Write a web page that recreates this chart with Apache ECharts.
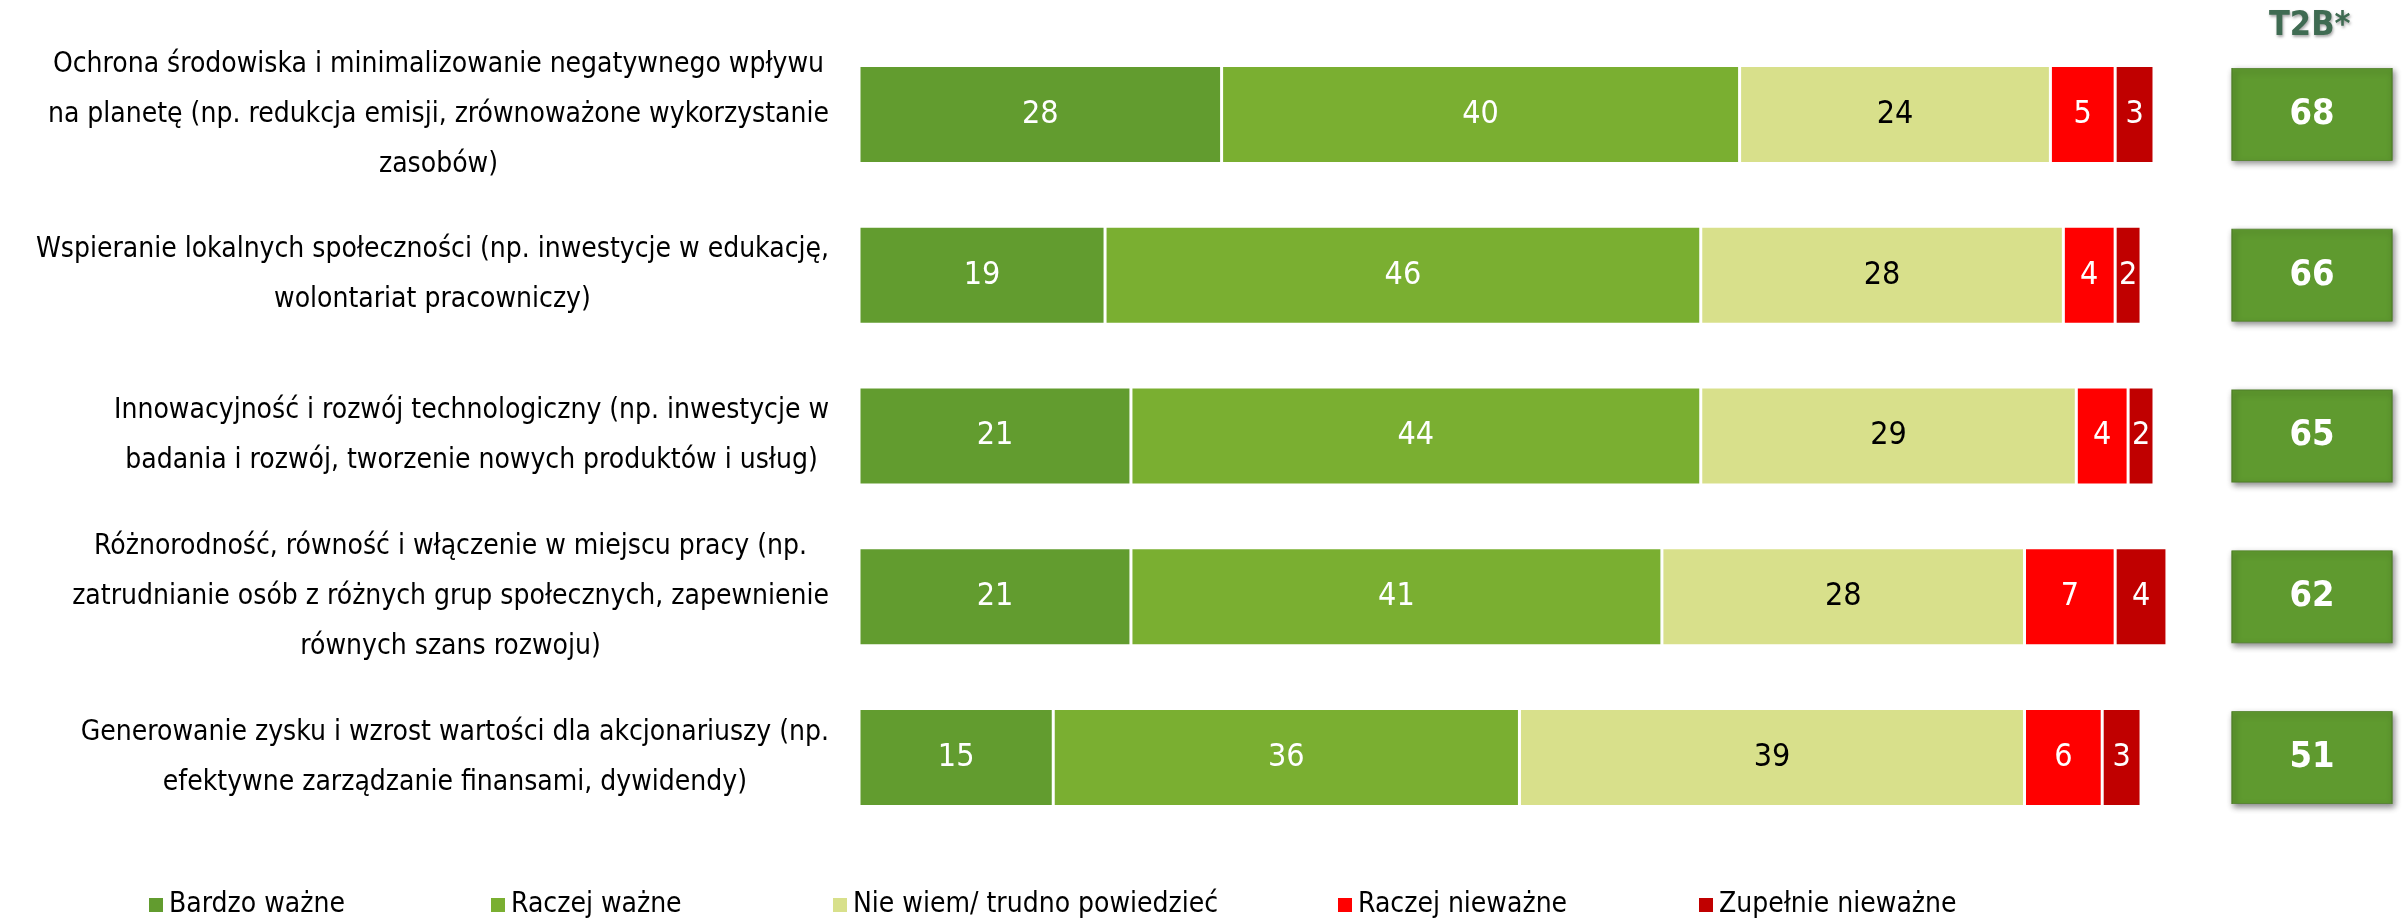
<!DOCTYPE html>
<html>
<head>
<meta charset="utf-8">
<script src="https://cdn.jsdelivr.net/npm/echarts@6/dist/echarts.min.js"></script>
<style>
  html, body { margin: 0; padding: 0; background: #ffffff; }
  #chart { width: 2405px; height: 919px; }
</style>
</head>
<body>
<div id="chart"></div>
<script>
// Category labels (line breaks as they are set in the chart)
const categories = [
  'Ochrona środowiska i minimalizowanie negatywnego wpływu\nna planetę (np. redukcja emisji, zrównoważone wykorzystanie\nzasobów)',
  'Wspieranie lokalnych społeczności (np. inwestycje w edukację,\nwolontariat pracowniczy)',
  'Innowacyjność i rozwój technologiczny (np. inwestycje w\nbadania i rozwój, tworzenie nowych produktów i usług)',
  'Różnorodność, równość i włączenie w miejscu pracy (np.\nzatrudnianie osób z różnych grup społecznych, zapewnienie\nrównych szans rozwoju)',
  'Generowanie zysku i wzrost wartości dla akcjonariuszy (np.\nefektywne zarządzanie finansami, dywidendy)'
];

// Shares of answers, in %
const bardzoWazne      = [28, 19, 21, 21, 15];
const raczejWazne      = [40, 46, 44, 41, 36];
const nieWiem          = [24, 28, 29, 28, 39];
const raczejNiewazne   = [5, 4, 4, 7, 6];
const zupelnieNiewazne = [3, 2, 2, 4, 3];

// Top-2-box totals
const t2bTitle = 'T2B*';
const t2b = [68, 66, 65, 62, 51];

const seriesNames = ['Bardzo ważne', 'Raczej ważne', 'Nie wiem/ trudno powiedzieć', 'Raczej nieważne', 'Zupełnie nieważne'];
const seriesData = [bardzoWazne, raczejWazne, nieWiem, raczejNiewazne, zupelnieNiewazne];

const seriesColors = ['#629c2f', '#7aaf31', '#d8e08b', '#ff0000', '#c00000'];
const labelColors  = ['#ffffff', '#ffffff', '#000000', '#ffffff', '#ffffff'];
const legendLeft   = [147, 489, 831, 1336, 1697];

const FONT = "'Liberation Sans Narrow', 'DejaVu Sans Condensed', 'Noto Sans', sans-serif";

const chart = echarts.init(document.getElementById('chart'), null, { renderer: 'canvas' });

const barSeries = seriesNames.map((name, i) => ({
  name: name,
  type: 'bar',
  stack: 'total',
  xAxisIndex: 0,
  yAxisIndex: 0,
  barWidth: 98,
  clip: false,
  data: seriesData[i],
  itemStyle: { color: seriesColors[i], borderColor: '#ffffff', borderWidth: 1.5 },
  label: {
    show: true,
    position: 'inside',
    fontFamily: FONT,
    fontSize: 32,
    color: labelColors[i]
  },
  emphasis: { disabled: true }
}));

const t2bSeries = {
  name: t2bTitle,
  type: 'scatter',
  xAxisIndex: 1,
  yAxisIndex: 1,
  symbol: 'rect',
  symbolSize: [160, 92],
  data: t2b.map((v, i) => [0.5, i, v]),
  encode: { x: 0, y: 1 },
  itemStyle: {
    color: '#5f9a2f',
    borderColor: '#4f7f28',
    borderWidth: 1,
    shadowBlur: 6,
    shadowColor: 'rgba(0,0,0,0.45)',
    shadowOffsetX: 2,
    shadowOffsetY: 3,
    opacity: 1
  },
  label: {
    show: true,
    position: 'inside',
    formatter: p => String(p.value[2]),
    fontFamily: FONT,
    fontWeight: 'bold',
    fontSize: 36,
    color: '#ffffff'
  },
  emphasis: { disabled: true }
};

const legends = seriesNames.map((name, i) => ({
  data: [name],
  left: legendLeft[i],
  top: 887,
  padding: 0,
  icon: 'rect',
  itemWidth: 16,
  itemHeight: 16,
  selectedMode: false,
  textStyle: { fontFamily: FONT, fontSize: 28, color: '#000000', lineHeight: 36 }
}));

chart.setOption({
  animation: false,
  backgroundColor: '#ffffff',
  title: {
    text: t2bTitle,
    left: 2264,
    top: 4,
    textStyle: {
      fontFamily: FONT,
      fontSize: 34,
      fontWeight: 'bold',
      color: '#3f6b52',
      textShadowBlur: 3,
      textShadowColor: 'rgba(0,0,0,0.35)',
      textShadowOffsetX: 1,
      textShadowOffsetY: 2
    }
  },
  legend: legends,
  grid: [
    { left: 859, width: 1295, top: 34, height: 804, outerBoundsMode: 'none', containLabel: false },
    { left: 2232, width: 160, top: 34, height: 804, outerBoundsMode: 'none', containLabel: false }
  ],
  xAxis: [
    { type: 'value', gridIndex: 0, min: 0, max: 100, show: false },
    { type: 'value', gridIndex: 1, min: 0, max: 1, show: false }
  ],
  yAxis: [
    {
      type: 'category',
      gridIndex: 0,
      inverse: true,
      data: categories,
      axisLine: { show: false },
      axisTick: { show: false },
      splitLine: { show: false },
      axisLabel: {
        margin: 30,
        align: 'right',
        formatter: v => v.split('\n').map(l => '{c|' + l + '}').join('\n'),
        rich: {
          c: { align: 'center', fontFamily: FONT, fontSize: 28, lineHeight: 50, color: '#000000' }
        }
      }
    },
    {
      type: 'category',
      gridIndex: 1,
      inverse: true,
      data: categories,
      show: false
    }
  ],
  series: barSeries.concat([t2bSeries])
});
</script>
</body>
</html>
